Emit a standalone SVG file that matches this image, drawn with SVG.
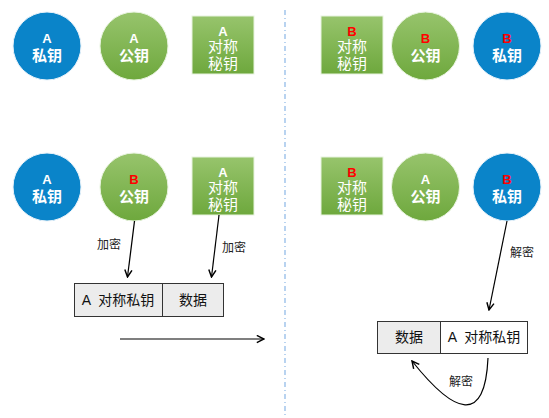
<svg xmlns="http://www.w3.org/2000/svg" width="549" height="418" viewBox="0 0 549 418">
<defs>
<linearGradient id="g" x1="0" y1="0" x2="0" y2="1">
<stop offset="0" stop-color="#97c46c"/>
<stop offset="1" stop-color="#6ea83d"/>
</linearGradient>
<marker id="ah" viewBox="0 0 10 10" refX="9" refY="5" markerWidth="9" markerHeight="9" markerUnits="userSpaceOnUse" orient="auto">
<path d="M1,1 L9,5 L1,9" fill="none" stroke="#000" stroke-width="1.6"/>
</marker>
</defs>
<style>
.blue{fill:#0a84c9;stroke:#e8f2fa;stroke-width:1}
.green{fill:url(#g);stroke:#e8f4df;stroke-width:1}
.t{font-family:"Liberation Sans","Noto Sans CJK SC",sans-serif;fill:#fff;text-anchor:middle}
.l{font-size:13px;font-weight:bold}
.k{font-size:15px;font-weight:bold}
.s{font-size:15px}
.r{fill:#ff0000}
.lab{font-family:"Liberation Sans","Noto Sans CJK SC",sans-serif;font-size:12px;fill:#222}
.cell{stroke:#333;stroke-width:1}
.ct{font-family:"Liberation Sans","Noto Sans CJK SC",sans-serif;font-size:14px;fill:#111;text-anchor:middle}
.edge{fill:none;stroke:#000;stroke-width:1.2;marker-end:url(#ah)}
</style>
<line x1="285" y1="10" x2="285" y2="418" stroke="#8ab6e6" stroke-width="1.2" stroke-dasharray="5,3,1,3"/>

<g id="a-priv-1"><circle class="blue" cx="47" cy="46" r="34"/><text class="t l" x="47" y="43">A</text><text class="t k" x="47" y="61">私钥</text></g>
<g id="a-pub-1"><circle class="green" cx="134" cy="46" r="34"/><text class="t l" x="134" y="43">A</text><text class="t k" x="134" y="61">公钥</text></g>
<g id="a-sym-1"><rect class="green" x="192" y="16" width="62" height="58"/><text class="t l" x="223" y="36">A</text><text class="t s" x="223" y="52">对称</text><text class="t s" x="223" y="69">秘钥</text></g>

<g id="b-sym-1"><rect class="green" x="321" y="16" width="62" height="58"/><text class="t l r" x="352" y="36">B</text><text class="t s" x="352" y="52">对称</text><text class="t s" x="352" y="69">秘钥</text></g>
<g id="b-pub-1"><circle class="green" cx="425.5" cy="46" r="34"/><text class="t l r" x="425.5" y="43">B</text><text class="t k" x="425.5" y="61">公钥</text></g>
<g id="b-priv-1"><circle class="blue" cx="507" cy="46" r="34"/><text class="t l r" x="507" y="43">B</text><text class="t k" x="507" y="61">私钥</text></g>

<g id="a-priv-2"><circle class="blue" cx="47" cy="187" r="34"/><text class="t l" x="47" y="184">A</text><text class="t k" x="47" y="202">私钥</text></g>
<g id="b-pub-2"><circle class="green" cx="134" cy="187" r="34"/><text class="t l r" x="134" y="184">B</text><text class="t k" x="134" y="202">公钥</text></g>
<g id="a-sym-2"><rect class="green" x="192" y="157" width="62" height="58"/><text class="t l" x="223" y="177">A</text><text class="t s" x="223" y="193">对称</text><text class="t s" x="223" y="210">秘钥</text></g>

<g id="b-sym-2"><rect class="green" x="321" y="157" width="62" height="58"/><text class="t l r" x="352" y="177">B</text><text class="t s" x="352" y="193">对称</text><text class="t s" x="352" y="210">秘钥</text></g>
<g id="a-pub-2"><circle class="green" cx="425.5" cy="187" r="34"/><text class="t l" x="425.5" y="184">A</text><text class="t k" x="425.5" y="202">公钥</text></g>
<g id="b-priv-2"><circle class="blue" cx="507" cy="187" r="34"/><text class="t l r" x="507" y="184">B</text><text class="t k" x="507" y="202">私钥</text></g>

<g id="packet-left">
<rect class="cell" x="74.5" y="283.5" width="88" height="33" fill="#ececec"/>
<rect class="cell" x="162.5" y="283.5" width="61" height="33" fill="#ececec"/>
<text class="ct" x="118" y="305" xml:space="preserve">A  对称私钥</text>
<text class="ct" x="193" y="305">数据</text>
</g>
<g id="packet-right">
<rect class="cell" x="377.5" y="321.5" width="63" height="32" fill="#ececec"/>
<rect class="cell" x="440.5" y="321.5" width="87" height="32" fill="#fff"/>
<text class="ct" x="409" y="342">数据</text>
<text class="ct" x="484" y="342" xml:space="preserve">A  对称私钥</text>
</g>

<g id="connectors">
<line class="edge" x1="134.5" y1="221" x2="127.5" y2="277"/>
<line class="edge" x1="219" y1="215" x2="211.5" y2="277"/>
<line class="edge" x1="120" y1="339" x2="264" y2="339"/>
<line class="edge" x1="507" y1="221" x2="489" y2="310"/>
<path class="edge" d="M488,358 C485,425 455,415 412,361"/>
<text class="lab" x="97" y="249">加密</text>
<text class="lab" x="222" y="252">加密</text>
<text class="lab" x="510" y="257">解密</text>
<text class="lab" x="449" y="386">解密</text>
</g>
</svg>
